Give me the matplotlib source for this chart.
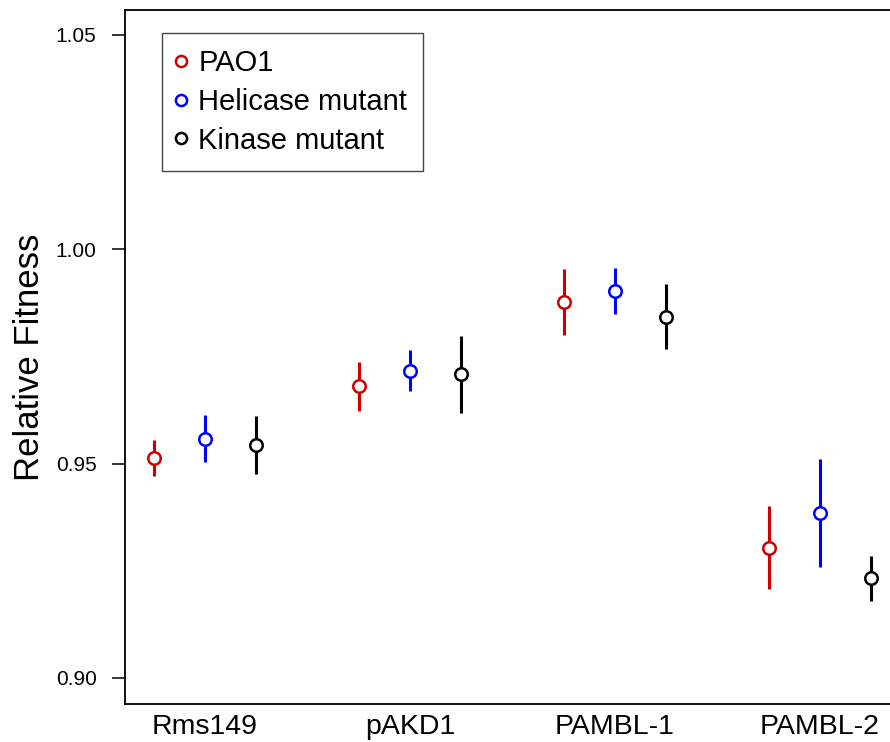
import numpy as np
import matplotlib.pyplot as plt
from matplotlib.lines import Line2D

plt.rcParams['font.family'] = ['Liberation Sans', 'DejaVu Sans']

plasmids = ["Rms149", "pAKD1", "PAMBL-1", "PAMBL-2"]
strains = ["PAO1", "Helicase mutant", "Kinase mutant"]
colors = ["#CD0000", "#0000FF", "#000000"]

# mean relative fitness and error (half-width) per strain, one value per plasmid
pao1_mean = [0.9513, 0.9680, 0.9877, 0.9304]
pao1_err = [0.0043, 0.0058, 0.0077, 0.0097]
helicase_mean = [0.9558, 0.9717, 0.9902, 0.9384]
helicase_err = [0.0055, 0.0047, 0.0053, 0.0126]
kinase_mean = [0.9543, 0.9708, 0.9842, 0.9232]
kinase_err = [0.0068, 0.0090, 0.0076, 0.0053]

means = [pao1_mean, helicase_mean, kinase_mean]
errs = [pao1_err, helicase_err, kinase_err]

W, H = 890, 742
fig = plt.figure(figsize=(W / 100, H / 100), dpi=100)
# right spine falls just outside the canvas like in the original
ax = fig.add_axes([125 / W, (H - 704) / H, (900 - 125) / W, (704 - 10) / H])

group_x = np.arange(len(plasmids)) * 4 + 2  # centre of each group
for i in range(3):
    xs = group_x + (i - 1)
    ax.errorbar(xs, means[i], yerr=errs[i], fmt='o', color=colors[i],
                mfc='white', mec=colors[i], ms=9, mew=1.8,
                elinewidth=2.2, capsize=0, zorder=3)

ax.set_xlim(0.44, 15.56)
ax.set_ylim(0.8939, 1.0558)
ax.set_yticks([0.90, 0.95, 1.00, 1.05])
ax.set_yticklabels(["0.90", "0.95", "1.00", "1.05"], fontsize=15)
ax.tick_params(axis='y', length=9.5, width=1.1, pad=11)
ax.set_xticks(group_x)
ax.set_xticklabels(plasmids, fontsize=20.5)
ax.tick_params(axis='x', length=0, pad=7)
ax.set_ylabel("Relative Fitness", fontsize=25, labelpad=7)

for s in ax.spines.values():
    s.set_linewidth(1.3)

handles = [Line2D([], [], ls='none', marker='o', mfc='white', mec=c, ms=8, mew=1.8)
           for c in colors]
leg = ax.legend(handles, strains, loc='upper left', bbox_to_anchor=(0.0477, 0.967),
                borderaxespad=0, fontsize=21, fancybox=False, framealpha=1,
                edgecolor='#444444', handlelength=0.2, handletextpad=0.5,
                borderpad=0.55, labelspacing=0.37)
leg.get_frame().set_linewidth(1.0)

fig.savefig("out.png", dpi=100)
